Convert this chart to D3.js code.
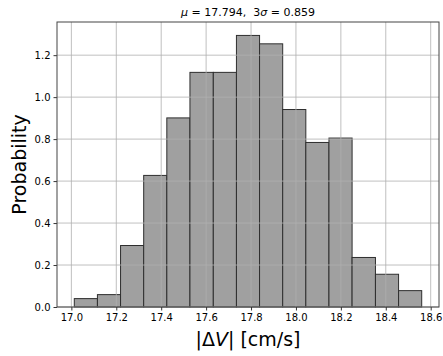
<!DOCTYPE html>
<html>
<head>
<meta charset="utf-8">
<script src="https://cdn.jsdelivr.net/npm/d3@7"></script>
<style>
  body { margin: 0; background: #fff; }
  svg { display: block; font-family: "DejaVu Sans", sans-serif; }
</style>
</head>
<body>
<div id="chart"></div>
<script>
// histogram of |dV| with probability density on y

const binEdges = [17.013, 17.116, 17.219, 17.322, 17.425, 17.528, 17.632, 17.735,
                  17.838, 17.941, 18.044, 18.147, 18.250, 18.354, 18.457, 18.560];
const density = [0.040, 0.059, 0.293, 0.627, 0.901, 1.118, 1.118, 1.294,
                 1.254, 0.941, 0.784, 0.805, 0.236, 0.156, 0.078];
const xTicks = [17.0, 17.2, 17.4, 17.6, 17.8, 18.0, 18.2, 18.4, 18.6];
const yTicks = [0.0, 0.2, 0.4, 0.6, 0.8, 1.0, 1.2];

const W = 443, H = 356;
const margin = { top: 22, right: 4, bottom: 49, left: 57 };
const innerW = W - margin.left - margin.right;
const innerH = H - margin.top - margin.bottom;

const bins = density.map((d, i) => ({ x0: binEdges[i], x1: binEdges[i + 1], v: d }));

const svg = d3.select('#chart')
    .append('svg')
    .attr('width', W)
    .attr('height', H);

const g = svg.append('g')
    .attr('transform', `translate(${margin.left},${margin.top})`);

const x = d3.scaleLinear()
    .domain([16.936, 18.637])
    .range([0, innerW]);
const y = d3.scaleLinear()
    .domain([0, 1.358])
    .range([innerH, 0]);

// bars
g.selectAll('.bar')
    .data(bins)
    .enter()
    .append('rect')
    .attr('class', 'bar')
    .attr('x', d => x(d.x0))
    .attr('y', d => y(d.v))
    .attr('width', d => x(d.x1) - x(d.x0))
    .attr('height', d => innerH - y(d.v))
    .attr('fill', '#a0a0a0')
    .attr('stroke', '#2e2e2e')
    .attr('stroke-width', 1);

// grid (drawn above the bars, like matplotlib)
const grid = g.append('g');
grid.selectAll('.gx')
    .data(xTicks)
    .enter()
    .append('line')
    .attr('x1', d => x(d)).attr('x2', d => x(d))
    .attr('y1', 0).attr('y2', innerH)
    .attr('stroke', '#b0b0b0').attr('stroke-width', 0.8);
grid.selectAll('.gy')
    .data(yTicks)
    .enter()
    .append('line')
    .attr('x1', 0).attr('x2', innerW)
    .attr('y1', d => y(d)).attr('y2', d => y(d))
    .attr('stroke', '#b0b0b0').attr('stroke-width', 0.8);

// axes
const xAxis = g.append('g')
    .attr('transform', `translate(0,${innerH})`)
    .call(d3.axisBottom(x).tickValues(xTicks).tickFormat(d3.format('.1f')).tickSize(3.5).tickPadding(3));
const yAxis = g.append('g')
    .call(d3.axisLeft(y).tickValues(yTicks).tickFormat(d3.format('.1f')).tickSize(3.5).tickPadding(3));

[xAxis, yAxis].forEach(a => {
    a.select('.domain').remove();
    a.selectAll('text').attr('font-size', 10).attr('fill', '#000')
        .attr('font-family', '"DejaVu Sans", sans-serif');
    a.selectAll('line').attr('stroke', '#000').attr('stroke-width', 0.8);
});

// frame
g.append('rect')
    .attr('x', 0).attr('y', 0)
    .attr('width', innerW).attr('height', innerH)
    .attr('fill', 'none')
    .attr('stroke', '#444')
    .attr('stroke-width', 1);

// title
const title = svg.append('text')
    .attr('x', margin.left + innerW / 2)
    .attr('y', 16)
    .attr('text-anchor', 'middle')
    .attr('font-size', 11)
    .style('white-space', 'pre');
title.append('tspan').attr('font-style', 'italic').text('μ');
title.append('tspan').text(' = 17.794,  3');
title.append('tspan').attr('font-style', 'italic').text('σ');
title.append('tspan').text(' = 0.859');

// axis labels
const xl = svg.append('text')
    .attr('x', margin.left + innerW / 2)
    .attr('y', 346)
    .attr('text-anchor', 'middle')
    .attr('font-size', 19);
xl.append('tspan').text('|Δ');
xl.append('tspan').attr('font-style', 'italic').text('V');
xl.append('tspan').text('| [cm/s]');

svg.append('text')
    .attr('transform', `translate(26,${margin.top + innerH / 2}) rotate(-90)`)
    .attr('text-anchor', 'middle')
    .attr('font-size', 19)
    .text('Probability');
</script>
</body>
</html>
